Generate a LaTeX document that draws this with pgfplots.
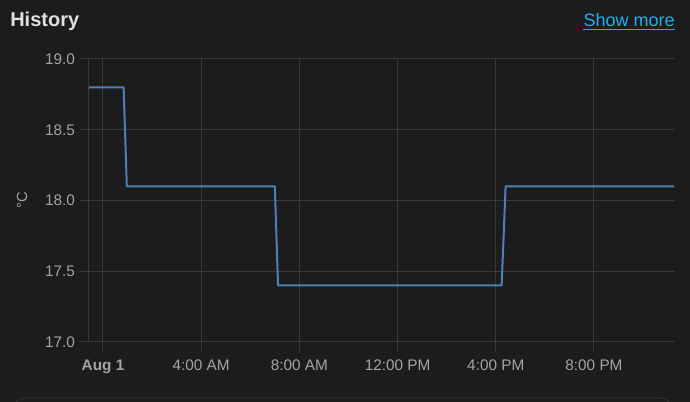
\documentclass[border=0pt]{standalone}
\usepackage{fontspec}
\setmainfont{Liberation Sans}
\usepackage{pgfplots}
\pgfplotsset{compat=1.18}

\definecolor{bg}{HTML}{1C1C1C}
\definecolor{gridcol}{HTML}{3A3A3A}
\definecolor{tickcol}{HTML}{A4A4A4}
\definecolor{linecol}{HTML}{4C80B6}
\definecolor{linkcol}{HTML}{1EAEF0}
\definecolor{cardcol}{HTML}{303030}

% 1px of the reference = 0.75pt
\begin{document}
\begin{tikzpicture}
\begin{scope}[x=0.75pt,y=0.75pt]
\useasboundingbox (0,0) rectangle (690,402);
\fill[bg] (0,0) rectangle (690,402);

\node[anchor=base west, inner sep=0, text=white!88!black, font=\fontsize{15}{18}\selectfont\bfseries] at (10,375.5) {History};
\node[anchor=base east, inner sep=0, text=linkcol, font=\fontsize{13.5}{16}\selectfont] (more) at (675,375.5) {Show more};
\draw[linkcol, line width=0.9pt] ([yshift=-2.2pt]more.base west) -- ([yshift=-2.2pt]more.base east);

\draw[cardcol, line width=0.75pt, rounded corners=9pt] (13,-20) -- (13,4) -- (672,4) -- (672,-20);
\end{scope}

\begin{axis}[
    at={(66.75pt,45pt)}, anchor=south west,
    scale only axis,
    width=438.75pt, height=212.25pt,
    xmin=-0.57, xmax=23.26,
    ymin=17, ymax=19,
    axis x line*=bottom, axis y line*=left,
    axis line style={draw=gridcol, line width=0.75pt, -},
    grid=major,
    major grid style={draw=gridcol, line width=0.75pt},
    tick align=outside,
    major tick length=7pt,
    tick style={draw=gridcol, line width=0.75pt},
    xtick={0,4,8,12,16,20},
    xticklabels={\textbf{Aug 1}, 4:00 AM, 8:00 AM, 12:00 PM, 4:00 PM, 8:00 PM},
    xticklabel style={yshift=-3pt},
    ytick={17,17.5,18,18.5,19},
    yticklabel style={/pgf/number format/.cd, fixed, fixed zerofill, precision=1},
    /pgf/number format/assume math mode=true,
    tick label style={text=tickcol, font=\fontsize{11.5}{14}\selectfont},
    ylabel={°C},
    ylabel style={at={(axis description cs:-0.1145,0.5)}, anchor=center, text=tickcol, font=\fontsize{11}{13}\selectfont},
    clip=true,
]
\addplot[linecol, line width=1.5pt, line join=round] coordinates {
    (-0.57,18.8) (0.84,18.8) (0.97,18.1) (7.00,18.1) (7.13,17.4)
    (16.24,17.4) (16.40,18.1) (23.26,18.1)
};
\end{axis}
\end{tikzpicture}
\end{document}
